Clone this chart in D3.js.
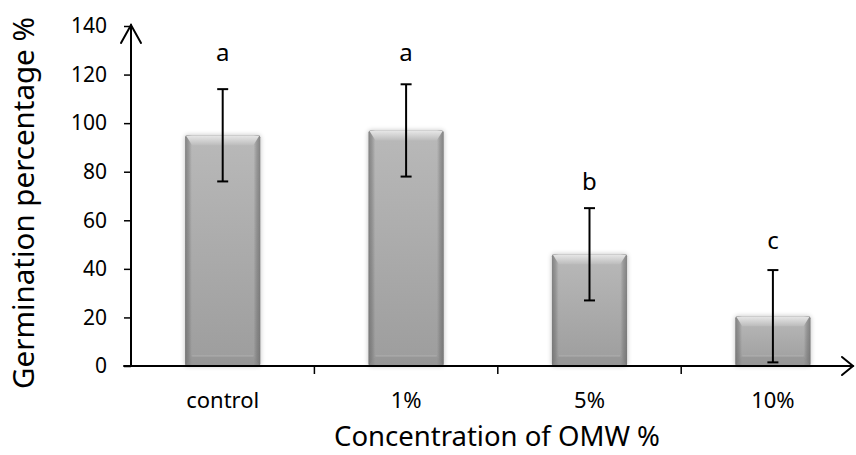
<!DOCTYPE html>
<html>
<head>
<meta charset="utf-8">
<script src="https://cdn.jsdelivr.net/npm/d3@7"></script>
<style>
  html, body { margin: 0; padding: 0; background: #fff; }
  svg { display: block; }
  text { font-family: "Noto Sans", "Open Sans", sans-serif; fill: #000; }
</style>
</head>
<body>
<div id="chart"></div>
<script>
// ---- data ----
const categories = ["control", "1%", "5%", "10%"];
const means = [95, 97, 46, 20.5];
const errors = [19, 19, 19, 19];
const letters = ["a", "a", "b", "c"];
const letterValues = [125.5, 125.5, 72.5, 48];
const yTicks = [0, 20, 40, 60, 80, 100, 120, 140];
const xTitle = "Concentration of OMW %";
const yTitle = "Germination percentage %";

// ---- layout ----
const W = 856, H = 455;
const x0 = 131, y0 = 366, yTop = 26;
const step = 183.4;

const svg = d3.select("#chart").append("svg")
  .attr("width", W).attr("height", H);

const x = d3.scaleBand().domain(categories)
  .range([x0, x0 + step * categories.length]).padding(0);
const y = d3.scaleLinear().domain([0, 140]).range([y0, yTop]);
const barW = x.bandwidth() * 0.41;

// ---- gradients ----
const defs = svg.append("defs");
const body = defs.append("linearGradient").attr("id", "bodyGrad")
  .attr("x1", 0).attr("y1", 0).attr("x2", 0).attr("y2", 1);
body.append("stop").attr("offset", "0%").attr("stop-color", "#b9b9b9");
body.append("stop").attr("offset", "100%").attr("stop-color", "#9d9d9d");

const edge = defs.append("linearGradient").attr("id", "edgeGrad")
  .attr("x1", 0).attr("y1", 0).attr("x2", 1).attr("y2", 0);
[["0%", 0.55], ["5%", 0.3], ["9%", 0.0], ["91%", 0.0], ["95%", 0.3], ["100%", 0.55]]
  .forEach(([o, a]) => edge.append("stop").attr("offset", o)
    .attr("stop-color", "#555").attr("stop-opacity", a));

const bevel = defs.append("linearGradient").attr("id", "bevelGrad")
  .attr("x1", 0).attr("y1", 0).attr("x2", 0).attr("y2", 1);
bevel.append("stop").attr("offset", "0%").attr("stop-color", "#e6e6e6");
bevel.append("stop").attr("offset", "100%").attr("stop-color", "#bcbcbc");

const shadow = defs.append("filter").attr("id", "shadow")
  .attr("x", "-20%").attr("y", "-20%").attr("width", "140%").attr("height", "140%");
shadow.append("feGaussianBlur").attr("in", "SourceAlpha").attr("stdDeviation", 2.5).attr("result", "b");
shadow.append("feComponentTransfer").attr("in", "b").attr("result", "s")
  .append("feFuncA").attr("type", "linear").attr("slope", 0.25);
const merge = shadow.append("feMerge");
merge.append("feMergeNode").attr("in", "s");
merge.append("feMergeNode").attr("in", "SourceGraphic");

// ---- bars ----
const bars = svg.append("g").selectAll("g.bar")
  .data(categories.map((c, i) => ({ c, m: means[i] })))
  .join("g").attr("class", "bar")
  .attr("transform", d => `translate(${x(d.c) + x.bandwidth() / 2 - barW / 2},${y(d.m)})`);

bars.each(function (d) {
  const g = d3.select(this);
  const h = y0 - y(d.m);
  const inner = g.append("g").attr("filter", "url(#shadow)");
  inner.append("rect").attr("width", barW).attr("height", h).attr("rx", 2)
    .attr("fill", "url(#bodyGrad)");
  inner.append("rect").attr("width", barW).attr("height", h).attr("rx", 2)
    .attr("fill", "url(#edgeGrad)");
  const bv = 10, ins = 7;
  g.append("path")
    .attr("d", `M1,0.5 H${barW - 1} L${barW - ins},${bv} H${ins} Z`)
    .attr("fill", "url(#bevelGrad)");
  g.append("path")
    .attr("d", `M${ins},${h - bv} H${barW - ins} L${barW},${h} H0 Z`)
    .attr("fill", "#8f8f8f").attr("opacity", 0.45);
  g.append("line").attr("x1", ins).attr("x2", barW - ins)
    .attr("y1", h - bv).attr("y2", h - bv)
    .attr("stroke", "#bdbdbd").attr("stroke-width", 1).attr("opacity", 0.6);
});

// ---- error bars and letters ----
const eg = svg.append("g").attr("stroke", "#000").attr("stroke-width", 2);
categories.forEach((c, i) => {
  const cx = x(c) + x.bandwidth() / 2;
  const hi = y(means[i] + errors[i]), lo = y(means[i] - errors[i]);
  eg.append("line").attr("x1", cx).attr("x2", cx).attr("y1", hi).attr("y2", lo);
  eg.append("line").attr("x1", cx - 5.5).attr("x2", cx + 5.5).attr("y1", hi).attr("y2", hi);
  eg.append("line").attr("x1", cx - 5.5).attr("x2", cx + 5.5).attr("y1", lo).attr("y2", lo);
  svg.append("text").attr("x", cx).attr("y", y(letterValues[i]))
    .attr("text-anchor", "middle").style("font-size", "24px").text(letters[i]);
});

// ---- y axis ----
const yAxis = svg.append("g").attr("transform", `translate(${x0},0)`)
  .call(d3.axisLeft(y).tickValues(yTicks).tickSize(7).tickPadding(17));
yAxis.select(".domain").remove();
yAxis.selectAll(".tick line").attr("stroke", "#000").attr("stroke-width", 1.5);
yAxis.selectAll(".tick text").style("font-size", "21px").attr("fill", "#000")
  .style("font-family", '"Noto Sans", sans-serif');

// ---- x axis ----
const xAxis = svg.append("g").attr("transform", `translate(0,${y0})`)
  .call(d3.axisBottom(x).tickSize(0).tickPadding(26));
xAxis.select(".domain").remove();
xAxis.selectAll(".tick text").style("font-size", "22px").attr("fill", "#000")
  .style("font-family", '"Noto Sans", sans-serif');
categories.slice(1).forEach(c => {
  svg.append("line").attr("x1", x(c)).attr("x2", x(c))
    .attr("y1", y0).attr("y2", y0 + 8).attr("stroke", "#000").attr("stroke-width", 1.5);
});

// axis lines with arrows
const ax = svg.append("g").attr("stroke", "#000").attr("stroke-width", 2)
  .attr("fill", "none").attr("stroke-linecap", "round");
ax.append("line").attr("x1", x0).attr("x2", x0).attr("y1", y0).attr("y2", yTop - 1);
ax.append("path").attr("d", `M${x0 - 10},${yTop + 17} L${x0},${yTop - 1} L${x0 + 10},${yTop + 17}`);
const xEnd = 853;
ax.append("line").attr("x1", x0 - 7).attr("x2", xEnd).attr("y1", y0).attr("y2", y0);
ax.append("path").attr("d", `M${xEnd - 11},${y0 - 9} L${xEnd},${y0} L${xEnd - 11},${y0 + 9}`);

// ---- titles ----
svg.append("text").attr("x", 497).attr("y", 446).attr("text-anchor", "middle")
  .style("font-size", "27.5px").text(xTitle);
svg.append("text").attr("transform", "translate(34,203) rotate(-90)")
  .attr("text-anchor", "middle").style("font-size", "29.5px").text(yTitle);
</script>
</body>
</html>
